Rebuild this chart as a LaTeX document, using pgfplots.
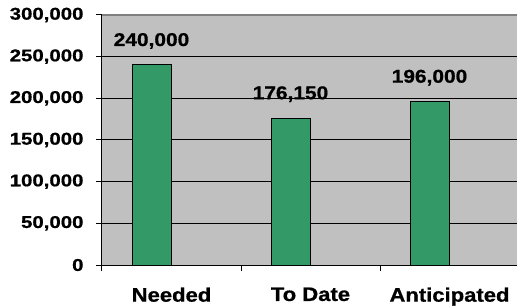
\documentclass[border=0pt]{standalone}
\usepackage{fontspec}
\setmainfont{Liberation Sans}
\newfontfamily\tickfont{Liberation Sans}[FakeStretch=1.2,FakeBold=0.8]
\newfontfamily\catfont{Liberation Sans}[FakeStretch=1.13,FakeBold=0.8]
\newfontfamily\datafont{Liberation Sans}[FakeStretch=1.13,FakeBold=0.8]
\usepackage{pgfplots}
\pgfplotsset{compat=1.18}
\definecolor{plotgray}{HTML}{C0C0C0}
\definecolor{bargreen}{HTML}{339966}
\begin{document}
\begin{tikzpicture}[x=1pt,y=1pt]
\useasboundingbox (0,0) rectangle (517,308);
\begin{axis}[
  at={(102pt,43pt)}, anchor=south west,
  scale only axis, width=417pt, height=250pt,
  xmin=-0.5, xmax=2.5, ymin=0, ymax=300000,
  axis background/.style={fill=plotgray},
  axis x line*=bottom, axis y line*=left,
  axis line style={black, line width=1pt},
  xtick={0,1,2}, xticklabels={Needed,To Date,Anticipated},
  minor xtick={-0.5,0.5,1.5,2.5},
  major x tick style={draw=none},
  minor x tick style={black, line width=1pt},
  minor tick length=6pt, major tick length=6pt,
  tick align=outside,
  ytick={0,50000,...,300000},
  y tick style={black, line width=1pt},
  ymajorgrids, grid style={black, line width=1pt},
  scaled y ticks=false,
  /pgf/number format/.cd, fixed, 1000 sep={,}, assume math mode=true,
  /pgfplots/.cd,
  yticklabel style={font=\tickfont\bfseries\fontsize{17}{17}\selectfont, xshift=-9pt},
  xticklabel style={font=\catfont\bfseries\fontsize{19.5}{20}\selectfont, yshift=-13pt},
]
\addplot[ybar, bar width=39pt, bar shift=-20pt, fill=bargreen, draw=black, line width=1pt,
  nodes near coords,
  every node near coord/.append style={font=\datafont\bfseries\fontsize{18.5}{19}\selectfont, anchor=base, xshift=-20pt, yshift=19pt, inner sep=0pt}]
  coordinates {(0,240000) (1,176150) (2,196000)};
\draw[gray, line width=1.5pt] (rel axis cs:0,1) -- (rel axis cs:1,1);
\end{axis}
\end{tikzpicture}
\end{document}
